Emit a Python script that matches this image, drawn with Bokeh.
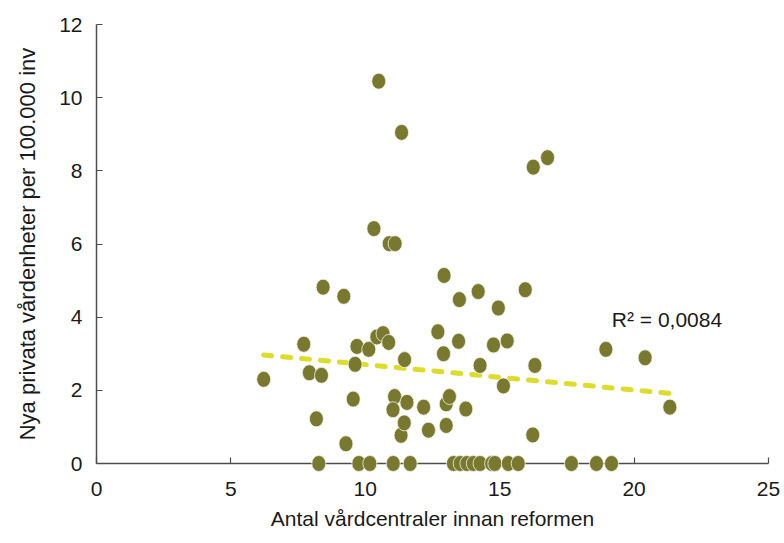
import numpy as np
from bokeh.plotting import figure
from bokeh.models import Range1d, Label, FixedTicker
from bokeh.embed import file_html
from bokeh.resources import INLINE

# Data: number of health centres before reform vs new private units per 100,000 inhabitants
x_vals = [6.22, 7.71, 7.92, 8.43, 8.37, 8.18, 9.20, 9.28, 9.55, 9.69, 9.62, 10.13,
          10.32, 10.50, 10.43, 10.66, 10.87, 10.89, 11.11, 11.35, 11.09, 11.03, 11.33,
          11.45, 11.46, 11.55, 12.17, 12.35, 12.70, 12.93, 12.91, 13.01, 13.13, 13.01,
          13.50, 13.47, 13.74, 14.20, 14.27, 14.77, 14.95, 15.14, 15.28, 15.95, 16.25,
          16.78, 16.31, 16.23, 18.95, 20.41, 21.33]
y_vals = [2.30, 3.26, 2.48, 4.82, 2.41, 1.22, 4.57, 0.54, 1.76, 3.20, 2.71, 3.12,
          6.42, 10.45, 3.46, 3.55, 3.31, 6.01, 6.01, 9.05, 1.83, 1.47, 0.77,
          1.11, 2.84, 1.67, 1.54, 0.91, 3.60, 5.14, 3.00, 1.63, 1.83, 1.04,
          4.48, 3.34, 1.49, 4.70, 2.68, 3.24, 4.25, 2.12, 3.35, 4.75, 8.10,
          8.36, 2.68, 0.78, 3.12, 2.89, 1.54]
x_zero = [8.27, 9.76, 10.17, 11.04, 11.67, 13.28, 13.53, 13.78, 14.02, 14.27,
          14.70, 14.82, 15.32, 15.69, 17.67, 18.60, 19.16]
y_zero = [0.0] * len(x_zero)

x_ticks = [0, 5, 10, 15, 20, 25]
y_ticks = [0, 2, 4, 6, 8, 10, 12]
r2_text = "R² = 0,0084"

x_all = np.array(x_vals + x_zero)
y_all = np.array(y_vals + y_zero)
slope, intercept = np.polyfit(x_all, y_all, 1)
trend_x = [x_all.min(), x_all.max()]
trend_y = [slope * v + intercept for v in trend_x]

FONT = "'Liberation Sans', Arial, sans-serif"

p = figure(width=780, height=535, output_backend="svg", toolbar_location=None,
           x_range=Range1d(0, 25), y_range=Range1d(0, 12),
           min_border_left=96, min_border_right=12, min_border_top=24, min_border_bottom=72)
p.outline_line_color = None
p.grid.visible = False
p.background_fill_color = "white"
p.border_fill_color = "white"

# trend line
p.line(trend_x, trend_y, line_color="#DEDC2A", line_width=5, line_dash="8 11", line_cap="round")

# points
p.ellipse(x_vals + x_zero, y_vals + y_zero, width=14, height=16,
          width_units="screen", height_units="screen",
          fill_color="#78782F", line_color="#f4f4e8", line_width=0.8, level="overlay")

for ax in (p.xaxis[0], p.yaxis[0]):
    ax.axis_line_color = "#4d4d4d"
    ax.axis_line_width = 1.5
    ax.major_tick_line_color = "#4d4d4d"
    ax.major_tick_line_width = 1.2
    ax.major_tick_in = 6
    ax.major_tick_out = 0
    ax.minor_tick_line_color = None
    ax.major_label_text_font = FONT
    ax.major_label_text_font_size = "21px"
    ax.major_label_text_color = "#1a1a1a"
    ax.axis_label_text_font = FONT
    ax.axis_label_text_font_style = "normal"
    ax.axis_label_text_color = "#1a1a1a"

p.xaxis.axis_label_text_font_size = "21px"
p.yaxis.axis_label_text_font_size = "22px"
p.xaxis.ticker = FixedTicker(ticks=x_ticks)
p.yaxis.ticker = FixedTicker(ticks=y_ticks)
p.xaxis.major_label_standoff = 18
p.yaxis.major_label_standoff = 14
p.xaxis.axis_label_standoff = 8
p.yaxis.axis_label_standoff = 16
p.xaxis.axis_label = "Antal vårdcentraler innan reformen"
p.yaxis.axis_label = "Nya privata vårdenheter per 100.000 inv"

p.add_layout(Label(x=19.17, y=3.62, text=r2_text, text_font=FONT,
                   text_font_size="21px", text_color="#1a1a1a", text_baseline="bottom"))

open("out.html", "w").write(file_html(p, INLINE))
